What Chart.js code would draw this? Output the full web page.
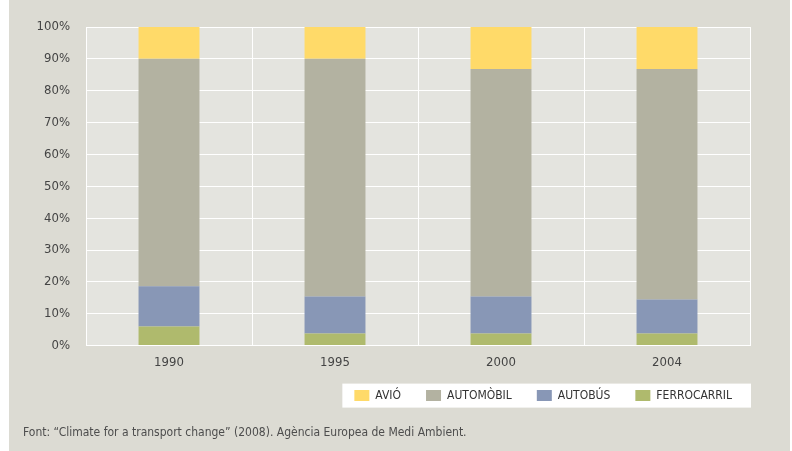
<!DOCTYPE html>
<html>
<head>
<meta charset="utf-8">
<script src="https://cdn.jsdelivr.net/npm/chart.js@4.4.0/dist/chart.umd.min.js"></script>
<style>
  html, body { margin: 0; padding: 0; background: #fff; }
  #wrap { position: absolute; left: 9px; top: 0; width: 781px; height: 451px; background: #dcdbd3; }
</style>
</head>
<body>
<div id="wrap"><canvas id="chart" width="781" height="451"></canvas></div>
<script>
// percentages (stack bottom -> top)
var years = ['1990', '1995', '2000', '2004'];
var ferrocarril = [6.0, 3.8, 3.8, 3.8];
var autobus = [12.6, 11.6, 11.6, 10.7];
var automobil = [71.4, 74.6, 71.4, 72.3];
var avio = [10.0, 10.0, 13.2, 13.2];
var yTicks = [0, 10, 20, 30, 40, 50, 60, 70, 80, 90, 100];

Chart.defaults.font.family = "'Liberation Sans Narrow', 'DejaVu Sans Condensed', 'Open Sans', sans-serif";
Chart.defaults.color = '#4d4d4d';

// plot background + white box behind the legend
var backdrop = {
  id: 'backdrop',
  afterLayout: function (chart) {
    var lg = chart.legend;
    lg.right += 7;
    lg.top -= 6;
    lg.bottom -= 6;
  },
  beforeDraw: function (chart) {
    var ctx = chart.ctx, a = chart.chartArea;
    ctx.save();
    ctx.fillStyle = '#e4e4df';
    ctx.fillRect(a.left, a.top, a.right - a.left, a.bottom - a.top);
    var hb = chart.legend.legendHitBoxes;
    if (hb && hb.length) {
      var l = Math.min.apply(null, hb.map(function (h) { return h.left; }));
      var r = Math.max.apply(null, hb.map(function (h) { return h.left + h.width; }));
      var cy = hb[0].top + hb[0].height / 2;
      ctx.fillStyle = '#ffffff';
      ctx.fillRect(l - 12, cy - 12, r - l + 31, 24);
    }
    ctx.restore();
  }
};

function ds(label, data, color) {
  return {
    label: label,
    data: data,
    backgroundColor: color,
    borderWidth: 0,
    barPercentage: 0.367,
    categoryPercentage: 1
  };
}

new Chart(document.getElementById('chart'), {
  type: 'bar',
  data: {
    labels: years,
    datasets: [
      ds('FERROCARRIL', ferrocarril, '#afba6d'),
      ds('AUTOBÚS', autobus, '#8897b6'),
      ds('AUTOMÒBIL', automobil, '#b3b2a1'),
      ds('AVIÓ', avio, '#ffda69')
    ]
  },
  options: {
    responsive: false,
    animation: false,
    layout: { padding: { top: 27, right: 40, left: 14, bottom: 0 } },
    scales: {
      x: {
        stacked: true,
        grid: { color: '#ffffff', lineWidth: 1, offset: true, drawTicks: false },
        border: { color: '#ffffff' },
        ticks: { font: { size: 13 }, color: '#444', padding: 9 },
        afterFit: function (s) { s.height = 25; }
      },
      y: {
        stacked: true,
        min: 0,
        max: 100,
        afterBuildTicks: function (s) { s.ticks = yTicks.map(function (v) { return { value: v }; }); },
        grid: { color: '#ffffff', lineWidth: 1, drawTicks: false },
        border: { display: false },
        ticks: { font: { size: 13 }, color: '#444', padding: 16, callback: function (v) { return v + '%'; } },
        afterFit: function (s) { s.width = 63; }
      }
    },
    plugins: {
      legend: {
        position: 'bottom',
        align: 'end',
        reverse: true,
        labels: { boxWidth: 15, boxHeight: 11, padding: 25, color: '#333', font: { size: 12 } }
      },
      title: {
        display: true,
        position: 'bottom',
        align: 'start',
        text: 'Font: \u201cClimate for a transport change\u201d (2008). Agència Europea de Medi Ambient.',
        color: '#4d4d4d',
        font: { size: 12, weight: 'normal' },
        padding: { top: 8, bottom: 11 }
      },
      tooltip: { enabled: false }
    }
  },
  plugins: [backdrop]
});
</script>
</body>
</html>
